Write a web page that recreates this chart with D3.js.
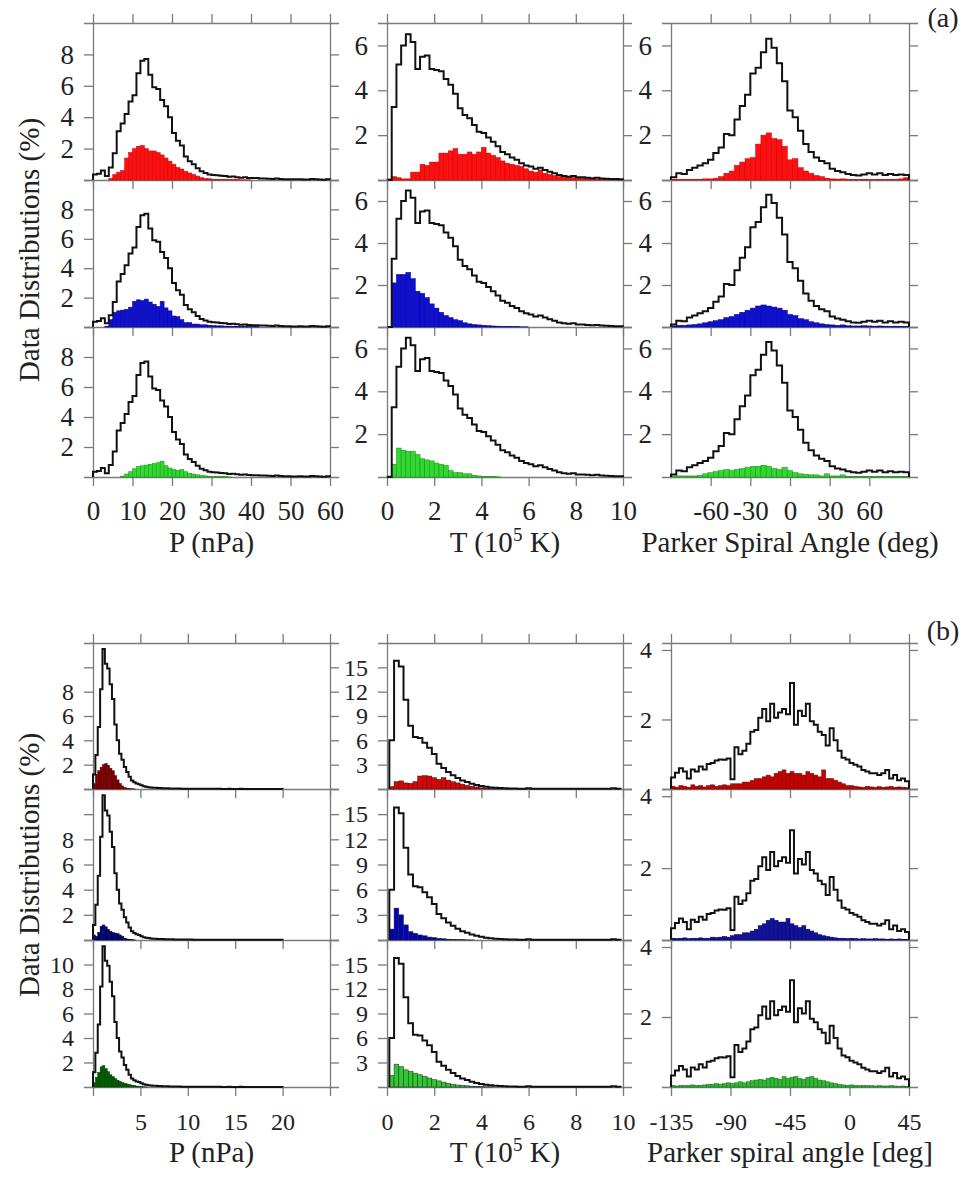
<!DOCTYPE html>
<html>
<head>
<meta charset="utf-8">
<script src="https://cdn.jsdelivr.net/npm/d3@7"></script>
<style>
body { margin: 0; background: #fff; }
svg text { font-family: "Liberation Serif", "Times New Roman", "DejaVu Serif", serif; fill: #222; }
.total { fill: none; stroke: #111; stroke-width: 2; stroke-linejoin: miter; }
</style>
</head>
<body>
<div id="chart"></div>
<script>
// ---------- (a) pressure, 1 nPa bins from 0 ----------
var aPressure = [0.35,0.4,0.6,0.25,0.8,1.7,3.1,3.6,4.2,5.0,5.4,6.8,7.6,7.7,6.7,5.9,5.8,5.1,4.7,4.0,3.0,2.5,2.2,1.5,1.2,1.0,0.75,0.55,0.45,0.35,0.32,0.3,0.27,0.25,0.2,0.22,0.18,0.15,0.17,0.13,0.12,0.12,0.1,0.1,0.08,0.06,0.1,0.06,0.05,0.05,0.04,0.04,0.05,0.03,0.03,0.06,0.05,0.03,0.02,0.05];
var aPressureRed = [0,0,0,0,0.1,0.35,0.5,0.6,1.4,1.75,2.0,2.15,2.2,2.0,1.85,1.85,1.75,1.6,1.4,1.2,1.0,0.8,0.7,0.55,0.45,0.35,0.25,0.15,0.1,0.08,0.05,0.04,0.03,0.03,0.02,0.02,0.02,0.01,0.01,0.01];
var aPressureBlue = [0,0,0,0.05,0.5,1.0,1.1,1.15,1.2,1.35,1.75,1.85,1.8,1.9,1.7,1.55,1.4,1.75,1.3,1.1,0.75,0.7,0.5,0.3,0.3,0.2,0.2,0.15,0.15,0.12,0.1,0.08,0.08,0.06,0.06,0.05,0.04,0.04,0.03,0.03,0.02,0.02];
var aPressureGreen = [0,0,0,0,0,0,0,0.05,0.2,0.35,0.55,0.7,0.75,0.8,0.85,0.9,0.95,1.05,0.75,0.6,0.5,0.45,0.5,0.35,0.25,0.2,0.15,0.1,0.08,0.05,0.03,0.02,0.02,0.02,0.01];

// ---------- (a) temperature, 0.2 bins from 0 ----------
var aTemp = [0,3.25,5.15,6.0,6.5,6.15,4.95,5.5,5.55,4.95,4.9,4.85,4.5,4.25,3.85,3.2,2.9,2.75,2.45,2.15,2.1,1.9,1.7,1.5,1.25,1.15,1.0,0.9,0.75,0.65,0.6,0.5,0.55,0.45,0.37,0.3,0.22,0.18,0.15,0.18,0.12,0.12,0.1,0.08,0.1,0.07,0.06,0.05,0.04,0.03];
var aTempRed = [0.05,0.15,0.1,0.05,0.05,0.35,0.35,0.7,0.65,0.8,0.8,1.2,1.2,1.3,1.4,1.15,1.15,1.25,1.15,1.25,1.45,1.2,1.1,1.0,0.85,0.75,0.7,0.65,0.6,0.5,0.4,0.35,0.45,0.3,0.25,0.2,0.15,0.12,0.1,0.1,0.08,0.07,0.05,0.05,0.04,0.03,0.03,0.02,0.02,0.01];
var aTempBlue = [0,2.1,2.5,2.5,2.6,2.3,1.7,1.6,1.4,1.1,0.9,0.7,0.55,0.45,0.35,0.3,0.2,0.15,0.12,0.1,0.08,0.06,0.05,0.04,0.03,0.03,0.02,0.02,0.01,0.01];
var aTempGreen = [0.05,0.6,1.35,1.25,1.2,1.2,1.05,0.85,0.8,0.75,0.65,0.6,0.55,0.3,0.2,0.2,0.15,0.15,0.08,0.05,0.03,0.02,0.02,0.01];

// ---------- (a) Parker spiral angle, 4 deg bins from -90 ----------
var aAngle = [0.12,0.3,0.27,0.45,0.55,0.65,0.75,0.9,1.2,1.45,2.05,2.0,2.7,3.3,3.8,4.75,5.0,5.7,6.3,5.9,5.2,4.4,3.1,2.8,2.2,1.6,1.25,1.0,0.85,0.75,0.5,0.4,0.35,0.27,0.22,0.2,0.25,0.3,0.25,0.3,0.22,0.27,0.22,0.25,0.22];
var aAngleRed = [0.03,0.03,0.03,0.03,0.03,0.03,0.05,0.05,0.08,0.15,0.3,0.4,0.65,0.8,0.95,1.0,1.6,2.0,2.1,1.85,1.8,1.5,0.9,0.95,0.55,0.4,0.3,0.2,0.15,0.08,0.05,0.04,0.05,0.03,0.02,0.02,0.03,0.02,0.02,0.03,0.02,0.03,0.02,0.05,0.1];
var aAngleBlue = [0.05,0.08,0.08,0.1,0.12,0.15,0.2,0.25,0.3,0.35,0.45,0.5,0.6,0.7,0.8,0.9,1.0,1.05,1.0,0.95,0.9,0.8,0.6,0.55,0.4,0.35,0.25,0.2,0.15,0.12,0.1,0.08,0.1,0.06,0.05,0.05,0.06,0.05,0.04,0.05,0.04,0.03,0.04,0.03,0.03];
var aAngleGreen = [0.05,0.05,0.05,0.05,0.05,0.08,0.15,0.2,0.25,0.3,0.35,0.3,0.35,0.4,0.45,0.5,0.5,0.55,0.5,0.4,0.35,0.45,0.3,0.2,0.15,0.12,0.1,0.1,0.05,0.15,0.05,0.05,0.1,0.03,0.03,0.02,0.03,0.02,0.02,0.03,0.02,0.02,0.02,0.02,0.02];

// ---------- (b) pressure, 0.25 nPa bins from 0 ----------
var bPressure = [1.2,2.8,5.1,8.2,11.5,10.3,9.9,8.6,7.4,5.3,4.0,2.9,2.4,1.8,1.4,1.0,0.7,0.55,0.45,0.4,0.3,0.22,0.18,0.15,0.12,0.1,0.1,0.08,0.08,0.07,0.06,0.06,0.05,0.05,0.04,0.04,0.04,0.03,0.03,0.03,0.03,0.03,0.02,0.02,0.02,0.02,0.02,0.02,0.02,0.02,0.02,0.02,0.02,0.02,0.01,0.01,0.01,0.02,0.01,0.01,0.01,0.01,0.02,0.01,0.01,0.01,0.01,0.01,0.01,0.01,0.01,0.01,0.01,0.01,0.01,0.01,0.01,0.01,0.01,0.01];
var bPressureRed = [0.45,1.2,1.5,1.8,2.0,2.1,1.95,1.7,1.5,1.1,0.75,0.45,0.25,0.12,0.06,0.03,0.02,0.01];
var bPressureBlue = [0.4,0.3,0.6,1.1,1.2,1.05,0.85,0.7,0.6,0.55,0.5,0.4,0.3,0.15,0.08,0.04,0.02,0.01];
var bPressureGreen = [0.35,0.8,1.2,1.65,1.75,1.5,1.25,1.0,0.85,0.7,0.55,0.45,0.35,0.3,0.25,0.2,0.15,0.12,0.08,0.05,0.03,0.02,0.01];

// ---------- (b) temperature, 0.2 bins from 0.1 ----------
var bTemp = [6.0,15.8,15.1,11.0,7.8,6.4,6.3,5.7,5.1,4.3,3.1,2.6,2.1,1.7,1.35,1.05,0.85,0.65,0.5,0.38,0.28,0.2,0.15,0.12,0.08,0.06,0.05,0.04,0.04,0.1,0.04,0.03,0.03,0.02,0.02,0.02,0.02,0.02,0.02,0.02,0.02,0.02,0.02,0.02,0.02,0.02,0.04,0.1,0.03];
var bTempRed = [0.3,0.9,1.0,0.75,0.7,0.9,1.6,1.65,1.6,1.4,1.2,1.4,1.1,0.9,0.75,0.6,0.45,0.35,0.25,0.15,0.1,0.06,0.04,0.03,0.02,0.01];
var bTempBlue = [1.3,3.8,3.0,1.8,1.0,0.8,0.6,0.5,0.35,0.3,0.2,0.15,0.1,0.08,0.05,0.03,0.02,0.01];
var bTempGreen = [1.4,2.8,2.5,2.1,1.9,1.7,1.5,1.3,1.1,0.9,0.75,0.6,0.45,0.35,0.25,0.2,0.15,0.1,0.08,0.05,0.03,0.02];

// ---------- (b) Parker spiral angle, 3 deg bins from -135 ----------
var bAngle = [0.33,0.47,0.6,0.5,0.3,0.56,0.5,0.65,0.56,0.72,0.75,0.82,0.85,0.84,0.88,0.28,1.2,1.0,1.1,1.3,1.65,1.7,2.05,2.3,1.95,2.45,2.05,2.2,2.3,2.15,3.05,1.85,2.25,2.1,2.45,1.95,1.85,1.65,1.55,1.25,1.75,1.4,1.1,0.9,0.85,0.75,0.7,0.65,0.55,0.5,0.45,0.45,0.4,0.45,0.55,0.3,0.4,0.25,0.3,0.22];
var bAngleRed = [0.08,0.05,0.1,0.08,0.05,0.12,0.08,0.1,0.06,0.1,0.12,0.08,0.1,0.12,0.1,0.15,0.15,0.15,0.2,0.2,0.25,0.3,0.3,0.35,0.4,0.35,0.45,0.5,0.55,0.45,0.5,0.45,0.45,0.4,0.5,0.45,0.4,0.35,0.55,0.3,0.3,0.25,0.2,0.15,0.1,0.1,0.08,0.06,0.05,0.08,0.06,0.05,0.07,0.05,0.06,0.08,0.05,0.06,0.05,0.04];
var bAngleBlue = [0.05,0.04,0.05,0.06,0.04,0.05,0.05,0.06,0.05,0.05,0.08,0.07,0.08,0.1,0.08,0.12,0.15,0.15,0.2,0.2,0.25,0.3,0.4,0.45,0.55,0.6,0.55,0.5,0.5,0.6,0.45,0.4,0.35,0.4,0.3,0.25,0.2,0.15,0.12,0.1,0.08,0.06,0.05,0.05,0.04,0.05,0.04,0.03,0.04,0.03,0.03,0.04,0.03,0.03,0.02,0.03,0.02,0.03,0.02,0.02];
var bAngleGreen = [0.05,0.03,0.05,0.04,0.05,0.06,0.05,0.05,0.06,0.08,0.08,0.1,0.08,0.1,0.12,0.1,0.12,0.15,0.12,0.15,0.18,0.2,0.22,0.2,0.25,0.28,0.25,0.22,0.3,0.25,0.28,0.3,0.25,0.22,0.28,0.3,0.25,0.2,0.18,0.15,0.12,0.1,0.08,0.06,0.05,0.06,0.05,0.04,0.05,0.04,0.04,0.03,0.04,0.03,0.03,0.04,0.03,0.02,0.03,0.02];

// bins and axes
var aBinStart = [0, 0, -90], aBinWidth = [1, 0.2, 4];
var bBinStart = [0, 0.1, -135], bBinWidth = [0.25, 0.2, 3];
var aXDomain = [[0, 60], [0, 10], [-90, 90]];
var bXDomain = [[0, 25], [0, 10], [-135, 45]];
var aXTicks = [[0,10,20,30,40,50,60], [0,2,4,6,8,10], [-60,-30,0,30,60]];
var bXTicks = [[0,5,10,15,20,25], [0,2,4,6,8,10], [-135,-90,-45,0,45]];
var aXLabels = [[0,10,20,30,40,50,60], [0,2,4,6,8,10], [-60,-30,0,30,60]];
var bXLabels = [[5,10,15,20], [0,2,4,6,8,10], [-135,-90,-45,0,45]];
var aYMax = [10, 7, 7], bYMax = [12, 18, 4.2];
var aYTicks = [[2,4,6,8], [2,4,6], [2,4,6]];
var bYTicks = [[2,4,6,8,10], [3,6,9,12,15], [2,4]];
var aYLabels = [[2,4,6,8], [2,4,6], [2,4,6]];
var bYLabels = [[2,4,6,8], [3,6,9,12,15], [2,4]];
var bYLabelsLastRow = [[2,4,6,8,10], [3,6,9,12,15], [2,4]];
var aXTitles = ["P (nPa)", "T", "Parker Spiral Angle (deg)"];
var bXTitles = ["P (nPa)", "T", "Parker spiral angle [deg]"];

var aTotals = [aPressure, aTemp, aAngle];
var bTotals = [bPressure, bTemp, bAngle];
var aSeries = [[aPressureRed, aPressureBlue, aPressureGreen], [aTempRed, aTempBlue, aTempGreen], [aAngleRed, aAngleBlue, aAngleGreen]];
var bSeries = [[bPressureRed, bPressureBlue, bPressureGreen], [bTempRed, bTempBlue, bTempGreen], [bAngleRed, bAngleBlue, bAngleGreen]];

var aFill = [["#ff1010","#1010d0","#30d830"], ["#ff1010","#1010d0","#30d830"], ["#ff1010","#1010d0","#30d830"]];
var aEdge = [["#c00000","#000090","#109010"], ["#c00000","#000090","#109010"], ["#c00000","#000090","#109010"]];
var bFill = [["#7a0000","#00006e","#005c00"], ["#e00000","#0000b4","#30c830"], ["#c80000","#12129a","#30b830"]];
var bEdge = [["#5a0000","#000050","#004000"], ["#222222","#222222","#222222"], ["#700000","#000060","#107010"]];

var width = 974, height = 1177;
var colX = [[93, 330], [387, 623], [671, 909]];
var aRows = [23, 180, 327, 477];
var bRows = [643, 789, 940, 1087];
var tick = 9;
var axisColor = "#7a7a7a";

var svg = d3.select("#chart").append("svg")
	.attr("width", width)
	.attr("height", height);

function styleAxis(g, size) {
	g.attr("font-family", null).attr("font-size", null);
	g.selectAll("path.domain").attr("stroke", axisColor).attr("stroke-width", 1.3);
	g.selectAll(".tick line").attr("stroke", axisColor).attr("stroke-width", 1.3);
	g.selectAll(".tick text").attr("fill", "#222").style("font-size", size + "px");
}

function labeller(list) {
	return function(d) { return list.indexOf(d) >= 0 ? d : ""; };
}

function drawPanel(o) {
	var x = d3.scaleLinear().domain(o.xDomain).range(o.xRange);
	var y = d3.scaleLinear().domain([0, o.yMax]).range([o.yb, o.yt]);
	var g = svg.append("g");

	// axes
	var left = g.append("g").attr("transform", `translate(${o.xRange[0]},0)`)
		.call(d3.axisLeft(y).tickValues(o.yTicks).tickSize(tick).tickSizeOuter(tick)
			.tickPadding(10).tickFormat(labeller(o.yLabels)));
	styleAxis(left, o.fontSize);

	var right = g.append("g").attr("transform", `translate(${o.xRange[1]},0)`)
		.call(d3.axisRight(y).tickValues(o.yTicks).tickSize(tick).tickSizeOuter(tick).tickFormat(""));
	styleAxis(right, o.fontSize);

	var bottom = g.append("g").attr("transform", `translate(0,${o.yb})`)
		.call(d3.axisBottom(x).tickValues(o.xTicks).tickSize(tick).tickSizeOuter(0)
			.tickPadding(o.xPad).tickFormat(o.lastRow ? labeller(o.xLabels) : ""));
	styleAxis(bottom, o.fontSize);

	if (o.firstRow) {
		var top = g.append("g").attr("transform", `translate(0,${o.yt})`)
			.call(d3.axisTop(x).tickValues(o.xTicks).tickSize(tick).tickSizeOuter(0).tickFormat(""));
		styleAxis(top, o.fontSize);
	}

	// coloured histogram
	var bars = o.part.map((v, i) => ({x0: o.start + i * o.step, x1: o.start + (i + 1) * o.step, v: v}))
		.filter(d => d.v > 0);
	g.append("g").selectAll("rect")
		.data(bars).enter()
		.append("rect")
		.attr("x", d => x(d.x0))
		.attr("width", d => x(d.x1) - x(d.x0))
		.attr("y", d => y(d.v))
		.attr("height", d => y(0) - y(d.v))
		.attr("fill", o.fill)
		.attr("stroke", o.edge)
		.attr("stroke-width", 0.5);

	// black total histogram outline
	var pts = [[o.start, 0]];
	o.total.forEach((v, i) => pts.push([o.start + i * o.step, v]));
	var end = o.start + o.total.length * o.step;
	pts.push([end, o.total[o.total.length - 1]]);
	pts.push([end, 0]);
	var line = d3.line()
		.x(d => x(d[0]))
		.y(d => y(d[1]))
		.curve(d3.curveStepAfter);
	g.append("path").attr("class", "total").attr("d", line(pts));
}

function drawPart(rows, totals, series, starts, steps, xDomains, xTicks, xLabels, yMax, yTicks, yLabels, lastYLabels, fills, edges, fontSize, xPad) {
	for (var c = 0; c < 3; c++) {
		for (var r = 0; r < 3; r++) {
			drawPanel({
				xDomain: xDomains[c], xRange: colX[c],
				yMax: yMax[c], yt: rows[r], yb: rows[r + 1],
				xTicks: xTicks[c], xLabels: xLabels[c],
				yTicks: yTicks[c], yLabels: r == 2 ? lastYLabels[c] : yLabels[c],
				start: starts[c], step: steps[c],
				total: totals[c], part: series[c][r],
				fill: fills[c][r], edge: edges[c][r],
				firstRow: r == 0, lastRow: r == 2,
				fontSize: fontSize, xPad: xPad
			});
		}
	}
}

drawPart(aRows, aTotals, aSeries, aBinStart, aBinWidth, aXDomain, aXTicks, aXLabels, aYMax, aYTicks, aYLabels, aYLabels, aFill, aEdge, 27, 15);
drawPart(bRows, bTotals, bSeries, bBinStart, bBinWidth, bXDomain, bXTicks, bXLabels, bYMax, bYTicks, bYLabels, bYLabelsLastRow, bFill, bEdge, 24, 17);

// titles
function xTitle(text, c, yBase) {
	var cx = (colX[c][0] + colX[c][1]) / 2;
	var t = svg.append("text").attr("x", cx).attr("y", yBase)
		.attr("text-anchor", "middle").style("font-size", "29px");
	if (text == "T") {
		t.append("tspan").text("T (10");
		t.append("tspan").attr("dy", -11).style("font-size", "19px").text("5");
		t.append("tspan").attr("dy", 11).text(" K)");
	} else {
		t.text(text);
	}
}
[0, 1, 2].forEach(c => {
	xTitle(aXTitles[c], c, 552);
	xTitle(bXTitles[c], c, 1162);
});

[[250], [865]].forEach(p => {
	svg.append("text")
		.attr("transform", `translate(39,${p[0]}) rotate(-90)`)
		.attr("text-anchor", "middle")
		.style("font-size", "29px")
		.text("Data Distributions (%)");
});

svg.append("text").attr("x", 943).attr("y", 27).attr("text-anchor", "middle").style("font-size", "28px").text("(a)");
svg.append("text").attr("x", 943).attr("y", 640).attr("text-anchor", "middle").style("font-size", "28px").text("(b)");
</script>
</body>
</html>
